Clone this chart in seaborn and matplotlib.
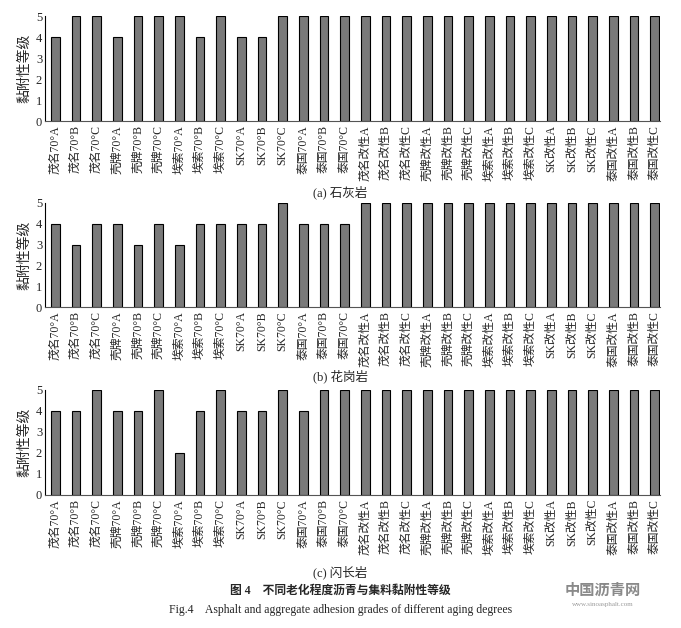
import matplotlib
matplotlib.use("Agg")
import matplotlib.pyplot as plt
import pandas as pd
import seaborn as sns

labels = ["茂名70°A", "茂名70°B", "茂名70°C", "壳牌70°A", "壳牌70°B", "壳牌70°C",
          "埃索70°A", "埃索70°B", "埃索70°C", "SK70°A", "SK70°B", "SK70°C",
          "泰国70°A", "泰国70°B", "泰国70°C",
          "茂名改性A", "茂名改性B", "茂名改性C", "壳牌改性A", "壳牌改性B", "壳牌改性C",
          "埃索改性A", "埃索改性B", "埃索改性C", "SK改性A", "SK改性B", "SK改性C",
          "泰国改性A", "泰国改性B", "泰国改性C"]

limestone = [4, 5, 5, 4, 5, 5, 5, 4, 5, 4, 4, 5, 5, 5, 5,
             5, 5, 5, 5, 5, 5, 5, 5, 5, 5, 5, 5, 5, 5, 5]
granite = [4, 3, 4, 4, 3, 4, 3, 4, 4, 4, 4, 5, 4, 4, 4,
           5, 5, 5, 5, 5, 5, 5, 5, 5, 5, 5, 5, 5, 5, 5]
diorite = [4, 4, 5, 4, 4, 5, 2, 4, 5, 4, 4, 5, 4, 5, 5,
           5, 5, 5, 5, 5, 5, 5, 5, 5, 5, 5, 5, 5, 5, 5]

panels = [("(a) 石灰岩", limestone), ("(b) 花岗岩", granite), ("(c) 闪长岩", diorite)]

sns.set_style("white")
plt.rcParams['font.family'] = ['Liberation Serif', 'Noto Sans CJK SC', 'DejaVu Sans']

fig = plt.figure(figsize=(6.81, 6.28), dpi=100)

# axes boxes [left, bottom, width, height] and caption heights
boxes = [[0.066, 0.807, 0.903, 0.167],
         [0.066, 0.511, 0.903, 0.166],
         [0.066, 0.212, 0.903, 0.167]]
cap_y = [0.694, 0.400, 0.089]

for (cap, vals), box, cy in zip(panels, boxes, cap_y):
    ax = fig.add_axes(box)
    df = pd.DataFrame({"name": labels, "grade": vals})
    sns.barplot(data=df, x="name", y="grade", order=labels, ax=ax,
                color="#7a7a7a", saturation=1, edgecolor="black",
                linewidth=0.8, width=0.42)
    ax.set_xlim(-0.5, 29.25)
    ax.set_ylim(0, 5)
    ax.set_yticks([0, 1, 2, 3, 4, 5])
    ax.set_xlabel("")
    ax.set_ylabel("黏附性等级", fontsize=10, labelpad=3)
    ax.tick_params(axis='y', direction='in', length=3, width=0.8, labelsize=9, pad=2)
    ax.tick_params(axis='x', length=0, labelsize=8.5, pad=3)
    plt.setp(ax.get_xticklabels(), rotation=90)
    sns.despine(ax=ax)
    ax.spines['left'].set_color('black')
    ax.spines['bottom'].set_color('#555555')
    fig.text(0.5, cy, cap, ha='center', va='center', fontsize=9)

fig.text(0.5, 0.060, "图 4    不同老化程度沥青与集料黏附性等级", ha='center', va='center',
         fontsize=8.5, weight='bold')
fig.text(0.5, 0.028, "Fig.4    Asphalt and aggregate adhesion grades of different aging degrees",
         ha='center', va='center', fontsize=8.5)
fig.text(0.885, 0.060, "中国沥青网", ha='center', va='center', fontsize=11,
         color='#8a8a8a', weight='bold')
fig.text(0.885, 0.037, "www.sinoasphalt.com", ha='center', va='center', fontsize=5,
         color='#9a9a9a')

fig.savefig("out.png", dpi=100)
